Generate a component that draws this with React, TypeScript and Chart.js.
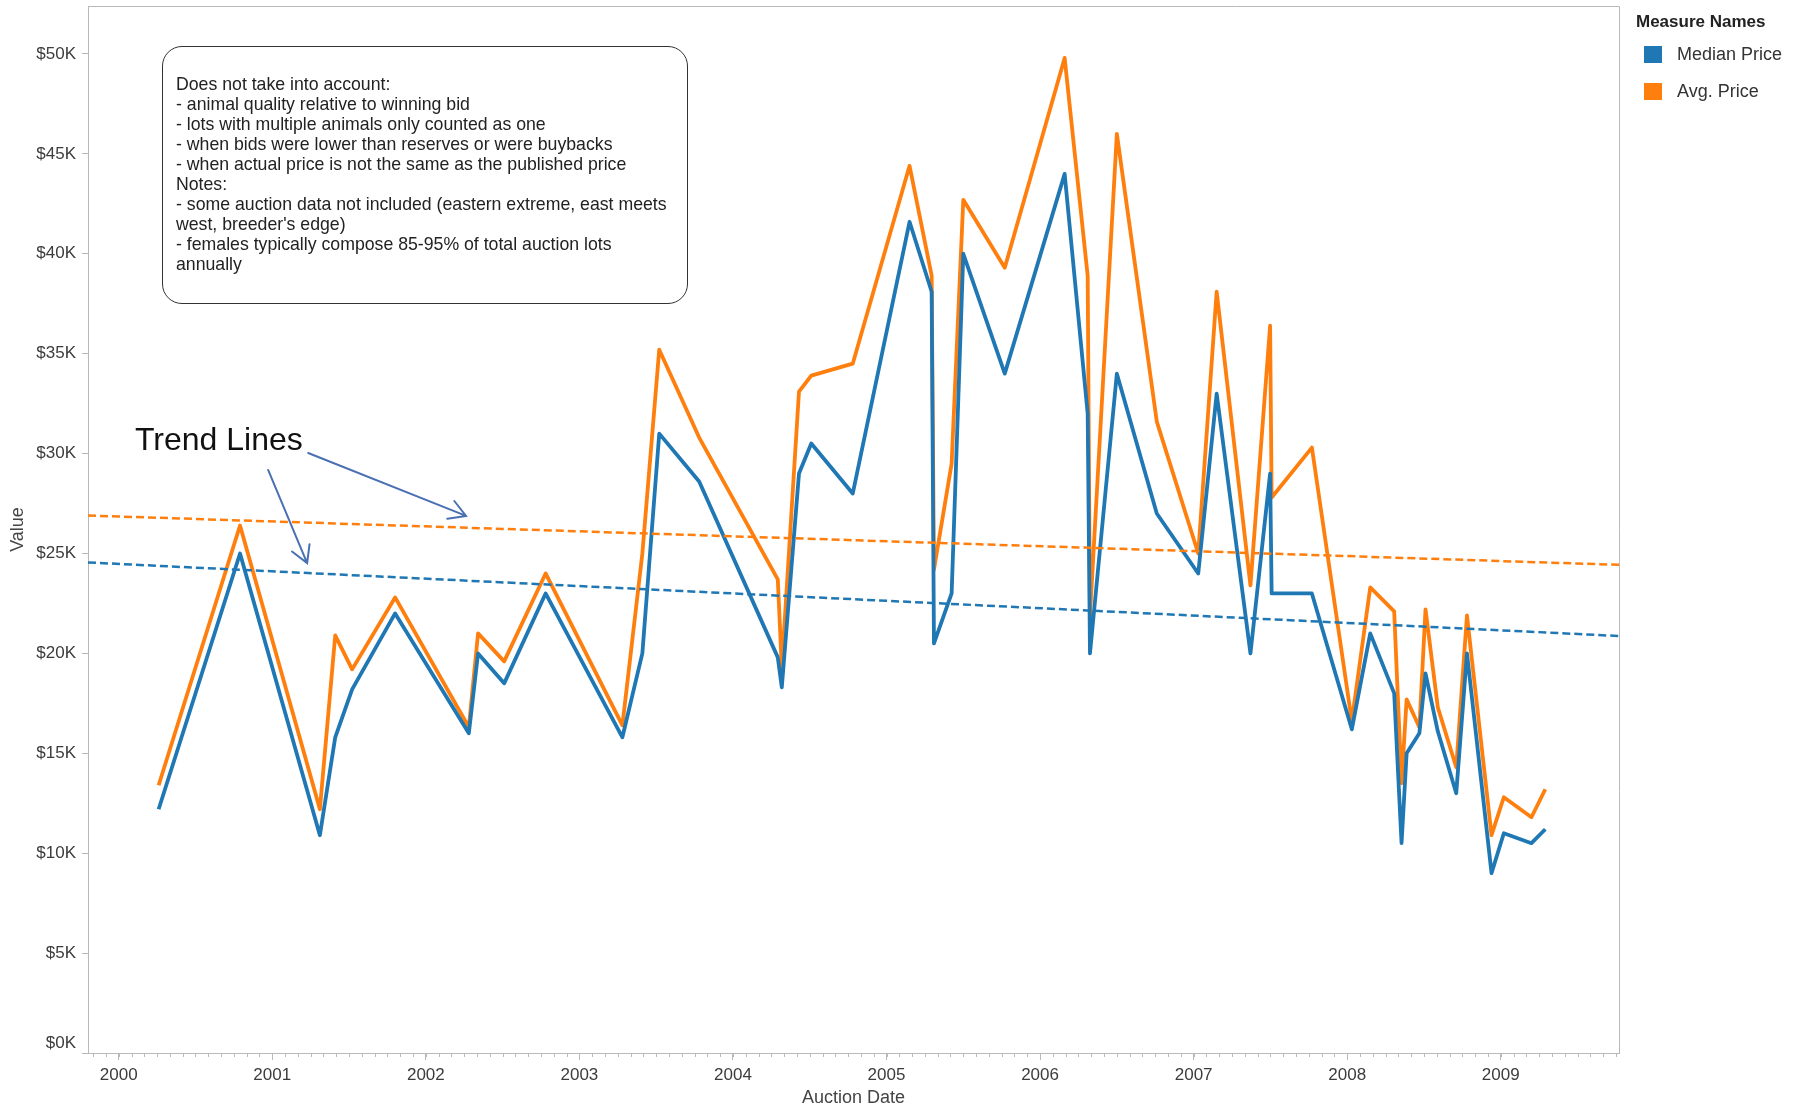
import React, { useEffect, useRef } from "react";
import { Chart, registerables } from "chart.js";

Chart.register(...registerables);

// ---- data (auction dates as decimal years, prices in USD) ----
const AUCTION_DATES = [
  2000.26, 2000.79, 2001.31, 2001.41, 2001.52, 2001.8, 2002.28, 2002.34, 2002.51, 2002.78,
  2003.28, 2003.41, 2003.52, 2003.78, 2004.292, 2004.318, 2004.43, 2004.51, 2004.78, 2005.15,
  2005.294, 2005.309, 2005.424, 2005.5, 2005.77, 2006.16, 2006.31, 2006.325, 2006.5, 2006.76,
  2007.03, 2007.15, 2007.37, 2007.498, 2007.508, 2007.77, 2008.03, 2008.15, 2008.306, 2008.354,
  2008.387, 2008.47, 2008.51, 2008.59, 2008.71, 2008.78, 2008.94, 2009.02, 2009.2, 2009.29,
];
const MEDIAN_PRICE = [
  12200, 25000, 10900, 15800, 18200, 22000, 16000, 20000, 18500, 23000,
  15800, 20000, 31000, 28600, 19800, 18300, 29000, 30500, 28000, 41600,
  38100, 20500, 23000, 40000, 34000, 44000, 32000, 20000, 34000, 27000,
  24000, 33000, 20000, 29000, 23000, 23000, 16200, 21000, 18000, 10500,
  15000, 16000, 19000, 16100, 13000, 20000, 9000, 11000, 10500, 11200,
];
const AVG_PRICE = [
  13400, 26400, 12200, 20900, 19200, 22800, 16300, 21000, 19600, 24000,
  16400, 25000, 35200, 30800, 23700, 19300, 33100, 33900, 34500, 44400,
  38900, 24200, 29500, 42700, 39300, 49800, 38900, 21900, 46000, 31600,
  25000, 38100, 23400, 36400, 27800, 30300, 16600, 23300, 22100, 13500,
  17700, 16300, 22200, 17300, 14300, 21900, 10900, 12800, 11800, 13200,
];
const TREND_DATES = [1999.8, 2009.77];
const MEDIAN_TREND = [24550, 20870];
const AVG_TREND = [26900, 24430];

const YEAR_TICKS = [2000, 2001, 2002, 2003, 2004, 2005, 2006, 2007, 2008, 2009];
const VALUE_TICKS = [0, 5000, 10000, 15000, 20000, 25000, 30000, 35000, 40000, 45000, 50000];
const X_MIN = 1999.8;
const X_MAX = 2009.77;
const Y_MAX = 52400;

const SERIES_NAMES = ["Median Price", "Avg. Price"];
const NOTE_LINES = [
  "Does not take into account:",
  "- animal quality relative to winning bid",
  "- lots with multiple animals only counted as one",
  "- when bids were lower than reserves or were buybacks",
  "- when actual price is not the same as the published price",
  "Notes:",
  "- some auction data not included (eastern extreme, east meets",
  "west, breeder's edge)",
  "- females typically compose 85-95% of total auction lots",
  "annually",
];

// arrows pointing at the trend lines, in data space [year, value]
const ARROWS = [
  { from: [2001.234, 30030], to: [2002.262, 26880] },
  { from: [2000.973, 29180], to: [2001.227, 24520] },
];

const BLUE = "#1f77b4";
const ORANGE = "#ff7f0e";
const AXIS = "#b9b9b9";
const TICK_TEXT = "#3c3c3c";
const FONT = "'Liberation Sans', Arial, sans-serif";
const fmtValue = (v: number) => "$" + v / 1000 + "K";

const framePlugin = {
  id: "frame",
  beforeDatasetsDraw(chart: any) {
    const { ctx, chartArea: a, scales } = chart;
    const x = scales.x;
    const y = scales.y;
    ctx.save();
    ctx.strokeStyle = AXIS;
    ctx.lineWidth = 1;
    ctx.beginPath();
    ctx.moveTo(a.left, a.top + 0.5);
    ctx.lineTo(a.right + 0.5, a.top + 0.5);
    ctx.lineTo(a.right + 0.5, a.bottom);
    ctx.stroke();
    // monthly minor ticks
    ctx.beginPath();
    for (let m = Math.ceil(X_MIN * 12); m <= Math.floor(X_MAX * 12); m++) {
      const px = Math.round(x.getPixelForValue(m / 12)) + 0.5;
      ctx.moveTo(px, a.bottom);
      ctx.lineTo(px, a.bottom + 4);
    }
    ctx.stroke();
    // bottom value label, lifted to sit inside the axis like the original
    ctx.fillStyle = TICK_TEXT;
    ctx.font = "17px " + FONT;
    ctx.textAlign = "right";
    ctx.textBaseline = "middle";
    ctx.fillText(fmtValue(VALUE_TICKS[0]), a.left - 12, y.getPixelForValue(VALUE_TICKS[0]) - 10);
    ctx.restore();
  },
  afterDatasetsDraw(chart: any) {
    const { ctx, scales } = chart;
    const x = scales.x;
    const y = scales.y;
    ctx.save();
    ctx.strokeStyle = "#4a70b4";
    ctx.lineWidth = 2;
    ctx.lineCap = "round";
    for (const ar of ARROWS) {
      const x1 = x.getPixelForValue(ar.from[0]);
      const y1 = y.getPixelForValue(ar.from[1]);
      const x2 = x.getPixelForValue(ar.to[0]);
      const y2 = y.getPixelForValue(ar.to[1]);
      const ang = Math.atan2(y2 - y1, x2 - x1);
      const len = 19;
      ctx.beginPath();
      ctx.moveTo(x1, y1);
      ctx.lineTo(x2, y2);
      ctx.moveTo(x2 - len * Math.cos(ang - Math.PI / 6), y2 - len * Math.sin(ang - Math.PI / 6));
      ctx.lineTo(x2, y2);
      ctx.lineTo(x2 - len * Math.cos(ang + Math.PI / 6), y2 - len * Math.sin(ang + Math.PI / 6));
      ctx.stroke();
    }
    ctx.restore();
  },
};

export default function App() {
  const ref = useRef<HTMLCanvasElement>(null);

  useEffect(() => {
    if (!ref.current) return;
    const pts = (vals: number[]) => AUCTION_DATES.map((d, i) => ({ x: d, y: vals[i] }));
    const tpts = (vals: number[]) => TREND_DATES.map((d, i) => ({ x: d, y: vals[i] }));
    const chart = new Chart(ref.current, {
      type: "line",
      data: {
        datasets: [
          {
            label: "Median trend",
            data: tpts(MEDIAN_TREND),
            borderColor: BLUE,
            borderWidth: 2.5,
            borderDash: [8, 4],
            pointRadius: 0,
          },
          {
            label: "Avg trend",
            data: tpts(AVG_TREND),
            borderColor: ORANGE,
            borderWidth: 2.5,
            borderDash: [8, 4],
            pointRadius: 0,
          },
          {
            label: SERIES_NAMES[0],
            data: pts(MEDIAN_PRICE),
            borderColor: BLUE,
            borderWidth: 3.8,
            pointRadius: 0,
            borderJoinStyle: "round",
          },
          {
            label: SERIES_NAMES[1],
            data: pts(AVG_PRICE),
            borderColor: ORANGE,
            borderWidth: 3.8,
            pointRadius: 0,
            borderJoinStyle: "round",
          },
        ],
      },
      options: {
        responsive: false,
        animation: false,
        layout: { padding: { left: 0, top: 6, right: 178, bottom: 0 } },
        plugins: { legend: { display: false }, tooltip: { enabled: false } },
        elements: { line: { tension: 0 } },
        scales: {
          x: {
            type: "linear",
            min: X_MIN,
            max: X_MAX,
            afterBuildTicks: (s: any) => {
              s.ticks = YEAR_TICKS.map((v) => ({ value: v }));
            },
            afterFit: (s: any) => {
              s.height = 54;
              s.paddingLeft = 0;
              s.paddingRight = 0;
            },
            ticks: {
              callback: (v: any) => String(v),
              color: TICK_TEXT,
              font: { family: FONT, size: 17 },
              padding: 5,
              maxRotation: 0,
              autoSkip: false,
            },
            grid: { drawOnChartArea: false, drawTicks: true, tickLength: 7, color: AXIS },
            border: { display: true, color: AXIS, width: 1 },
            title: {
              display: true,
              text: "Auction Date",
              color: "#444",
              font: { family: FONT, size: 18, lineHeight: 1.05 },
              padding: { top: 0, bottom: 0 },
            },
          },
          y: {
            type: "linear",
            min: 0,
            max: Y_MAX,
            afterBuildTicks: (s: any) => {
              s.ticks = VALUE_TICKS.map((v) => ({ value: v }));
            },
            afterFit: (s: any) => {
              s.width = 88;
              s.paddingTop = 0;
              s.paddingBottom = 0;
            },
            ticks: {
              callback: (v: any) => (Number(v) === VALUE_TICKS[0] ? "" : fmtValue(Number(v))),
              color: TICK_TEXT,
              font: { family: FONT, size: 17 },
              padding: 6,
            },
            grid: { drawOnChartArea: false, drawTicks: true, tickLength: 6, color: AXIS },
            border: { display: true, color: AXIS, width: 1 },
            title: {
              display: true,
              text: "Value",
              color: "#444",
              font: { family: FONT, size: 18 },
              padding: { top: 7, bottom: 0 },
            },
          },
        },
      },
      plugins: [framePlugin],
    } as any);
    return () => chart.destroy();
  }, []);

  return (
    <div
      style={{
        position: "fixed",
        left: 0,
        top: 0,
        width: 1797,
        height: 1107,
        background: "#fff",
        fontFamily: FONT,
      }}
    >
      <canvas ref={ref} width={1797} height={1107} style={{ width: 1797, height: 1107, display: "block" }} />
      {/* annotation box */}
      <div
        style={{
          position: "absolute",
          left: 162,
          top: 46,
          width: 526,
          height: 258,
          boxSizing: "border-box",
          border: "1.5px solid #333",
          borderRadius: 20,
        }}
      />
      <div
        style={{
          position: "absolute",
          left: 176,
          top: 74,
          fontSize: 17.7,
          lineHeight: "20px",
          color: "#222",
          whiteSpace: "pre",
        }}
      >
        {NOTE_LINES.map((l, i) => (
          <div key={i}>{l}</div>
        ))}
      </div>
      {/* trend lines label */}
      <div
        style={{
          position: "absolute",
          left: 135,
          top: 419,
          fontSize: 32,
          lineHeight: "40px",
          color: "#111",
          whiteSpace: "pre",
        }}
      >
        Trend Lines
      </div>
      {/* legend */}
      <div style={{ position: "absolute", left: 1636, top: 11, color: "#222" }}>
        <div style={{ fontWeight: "bold", fontSize: 17, lineHeight: "22px" }}>Measure Names</div>
        {SERIES_NAMES.map((n, i) => (
          <div
            key={n}
            style={{ position: "absolute", left: 8, top: 32 + i * 37, display: "flex", alignItems: "center", whiteSpace: "nowrap" }}
          >
            <span style={{ display: "inline-block", width: 18, height: 17, background: i === 0 ? BLUE : ORANGE }} />
            <span style={{ marginLeft: 15, fontSize: 18, lineHeight: "22px", color: "#333" }}>{n}</span>
          </div>
        ))}
      </div>
    </div>
  );
}
